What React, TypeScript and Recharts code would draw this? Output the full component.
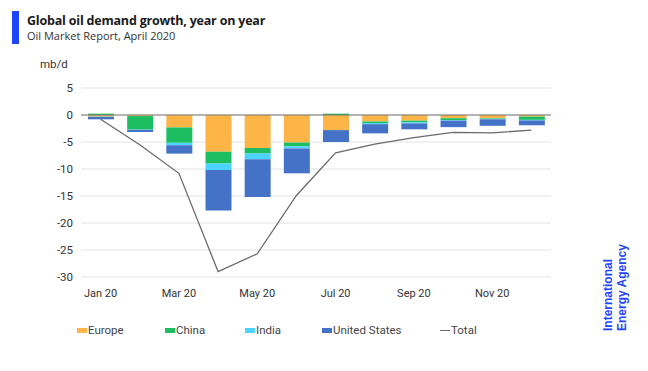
// Global oil demand growth, year on year (IEA Oil Market Report, April 2020)
import {
  ComposedChart,
  Bar,
  Line,
  XAxis,
  YAxis,
  CartesianGrid,
  ReferenceLine,
} from "recharts";

const months = ["Jan 20", "Feb 20", "Mar 20", "Apr 20", "May 20", "Jun 20", "Jul 20", "Aug 20", "Sep 20", "Oct 20", "Nov 20", "Dec 20"];
const europe = [-0.3, -0.2, -2.3, -6.8, -6.1, -5.1, -2.8, -1.2, -1.05, -0.6, -0.6, -0.3];
const china = [0.25, -2.5, -2.85, -2.2, -1.05, -0.7, 0.25, -0.3, -0.3, -0.35, -0.1, -0.6];
const india = [-0.05, -0.05, -0.45, -1.2, -1.05, -0.4, 0, -0.2, -0.2, -0.1, -0.1, -0.1];
const unitedStates = [-0.45, -0.4, -1.55, -7.5, -7.0, -4.6, -2.2, -1.7, -1.1, -1.2, -1.2, -0.9];
const total = [-0.8, -5.5, -10.8, -29.0, -25.7, -14.9, -7.0, -5.4, -4.2, -3.2, -3.3, -2.8];
const yTicks = [5, 0, -5, -10, -15, -20, -25, -30];

const COLORS = {
  europe: "#FDB547",
  china: "#1DBE62",
  india: "#4DD3FF",
  us: "#4472C6",
  total: "#6b6b6b",
  iea: "#1F45FC",
};

const data = months.map((m, i) => ({
  month: m,
  europe: europe[i],
  china: china[i],
  india: india[i],
  us: unitedStates[i],
  total: total[i],
}));

const FONT = "Roboto, 'Noto Sans', sans-serif";

const legendItems = [
  { label: "Europe", color: COLORS.europe, left: 77 },
  { label: "China", color: COLORS.china, left: 165 },
  { label: "India", color: COLORS.india, left: 245 },
  { label: "United States", color: COLORS.us, left: 322 },
];

export default function App() {
  return (
    <div style={{ position: "absolute", left: 0, top: 0, width: 648, height: 371, background: "#fff", fontFamily: FONT, overflow: "hidden" }}>
      <div style={{ position: "absolute", left: 12, top: 11, width: 7, height: 33, background: COLORS.iea }} />
      <div style={{ position: "absolute", left: 27, top: 12, fontSize: 12.5, fontWeight: 700, color: "#1a1a1a", fontFamily: "'Open Sans', sans-serif", letterSpacing: -0.2 }}>
        Global oil demand growth, year on year
      </div>
      <div style={{ position: "absolute", left: 27, top: 28, fontSize: 11, color: "#333", fontFamily: "'Open Sans', sans-serif" }}>
        Oil Market Report, April 2020
      </div>
      <div style={{ position: "absolute", left: 40, top: 57, fontSize: 11.5, color: "#333" }}>mb/d</div>

      <ComposedChart
        width={648}
        height={371}
        data={data}
        stackOffset="sign"
        margin={{ top: 88, right: 97, bottom: 64, left: 41 }}
        style={{ position: "absolute", left: 0, top: 0 }}
      >
        <CartesianGrid vertical={false} stroke="#e3e3e3" />
        <XAxis
          dataKey="month"
          interval={1}
          axisLine={false}
          tickLine={false}
          tickMargin={6}
          height={30}
          tick={{ fontSize: 11, fill: "#333", fontFamily: FONT }}
        />
        <YAxis
          domain={[-30, 5]}
          ticks={yTicks}
          width={40}
          axisLine={false}
          tickLine={false}
          tick={{ fontSize: 11.5, fill: "#333", fontFamily: FONT }}
        />
        <ReferenceLine y={0} stroke="#777" strokeWidth={1.2} />
        <Bar dataKey="europe" stackId="a" barSize={26} fill={COLORS.europe} isAnimationActive={false} />
        <Bar dataKey="china" stackId="a" barSize={26} fill={COLORS.china} isAnimationActive={false} />
        <Bar dataKey="india" stackId="a" barSize={26} fill={COLORS.india} isAnimationActive={false} />
        <Bar dataKey="us" stackId="a" barSize={26} fill={COLORS.us} isAnimationActive={false} />
        <Line
          type="linear"
          dataKey="total"
          stroke={COLORS.total}
          strokeWidth={1.3}
          dot={false}
          activeDot={false}
          isAnimationActive={false}
        />
      </ComposedChart>

      {legendItems.map((it) => (
        <div key={it.label} style={{ position: "absolute", left: it.left, top: 323, display: "flex", alignItems: "center", fontSize: 11.5, color: "#444" }}>
          <span style={{ display: "inline-block", width: 10, height: 5, background: it.color, marginRight: 1 }} />
          {it.label}
        </div>
      ))}
      <div style={{ position: "absolute", left: 440, top: 323, display: "flex", alignItems: "center", fontSize: 11.5, color: "#444" }}>
        <span style={{ display: "inline-block", width: 10, height: 1, background: COLORS.total, marginRight: 1 }} />
        Total
      </div>

      <div
        style={{
          position: "absolute",
          left: 601,
          top: 331,
          transform: "rotate(-90deg)",
          transformOrigin: "0 0",
          fontFamily: "'Liberation Sans', Arial, sans-serif",
          fontWeight: 700,
          fontSize: 12,
          lineHeight: "14px",
          color: COLORS.iea,
          whiteSpace: "nowrap",
        }}
      >
        International
        <br />
        Energy Agency
      </div>
    </div>
  );
}
